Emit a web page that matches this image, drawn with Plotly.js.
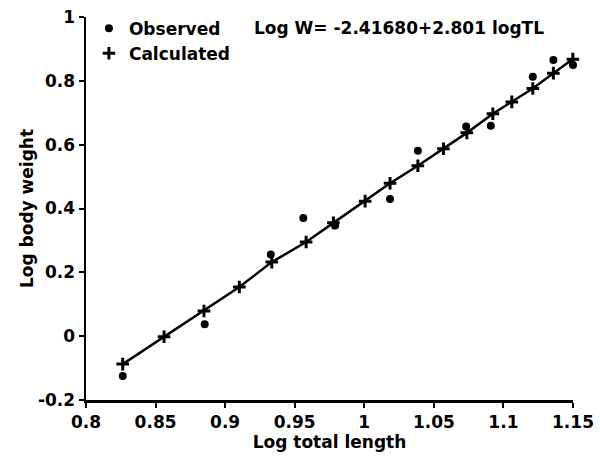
<!DOCTYPE html>
<html>
<head>
<meta charset="utf-8">
<script src="https://cdn.plot.ly/plotly-3.0.1.min.js"></script>
<style>html,body{margin:0;padding:0;background:#fff;}#chart{width:600px;height:460px;}</style>
</head>
<body>
<div id="chart"></div>
<script>
// Observed points (log total length, log body weight)
const obsX = [0.8264, 0.8853, 0.9328, 0.9562, 0.9790, 1.0185, 1.0385, 1.0732, 1.0909, 1.1211, 1.1359, 1.1500];
const obsY = [-0.125, 0.0375, 0.256, 0.370, 0.347, 0.430, 0.581, 0.657, 0.659, 0.8125, 0.865, 0.850];
// Calculated points
const calcX = [0.8264, 0.8561, 0.8848, 0.9102, 0.9335, 0.9582, 0.9778, 1.0006, 1.0185, 1.0385, 1.0569, 1.0737, 1.0924, 1.1060, 1.1211, 1.1359, 1.1499];
const calcY = [-0.0875, -0.002, 0.079, 0.154, 0.232, 0.295, 0.355, 0.423, 0.479, 0.534, 0.587, 0.637, 0.697, 0.734, 0.776, 0.824, 0.868];
// Tick labels
const xTickVals = [0.8, 0.85, 0.9, 0.95, 1, 1.05, 1.1, 1.15];
const xTickText = ["0.8", "0.85", "0.9", "0.95", "1", "1.05", "1.1", "1.15"];
const yTickVals = [-0.2, 0, 0.2, 0.4, 0.6, 0.8, 1];
const yTickText = ["-0.2", "0", "0.2", "0.4", "0.6", "0.8", "1"];
const equationText = "Log W= -2.41680+2.801 logTL";

const FONT = {family: "DejaVu Sans", size: 17, color: "#000", weight: "bold"};

const traces = [
  {x: calcX, y: calcY, mode: "lines", line: {color: "#000", width: 2.5}, showlegend: false, hoverinfo: "skip", cliponaxis: false},
  {x: calcX, y: calcY, mode: "markers", name: "Calculated", legendrank: 2, cliponaxis: false,
   marker: {symbol: "cross-thin", size: 9, color: "#000", line: {color: "#000", width: 3}}},
  {x: obsX, y: obsY, mode: "markers", name: "Observed", legendrank: 1, cliponaxis: false,
   marker: {symbol: "circle", size: 8, color: "#000"}}
];

const axisCommon = {
  showline: true, linecolor: "#000", linewidth: 2.5,
  ticks: "outside", ticklen: 5, tickwidth: 2, tickcolor: "#000",
  showgrid: false, zeroline: false, tickfont: FONT, tickmode: "array"
};

const layout = {
  width: 600, height: 460,
  margin: {l: 86, r: 27, t: 16, b: 60},
  paper_bgcolor: "#fff", plot_bgcolor: "#fff",
  font: FONT,
  xaxis: Object.assign({}, axisCommon, {range: [0.8, 1.15], tickvals: xTickVals, ticktext: xTickText,
    title: {text: "Log total length", font: FONT, standoff: 2}}),
  yaxis: Object.assign({}, axisCommon, {range: [-0.2, 1], tickvals: yTickVals, ticktext: yTickText,
    title: {text: "Log body weight", font: FONT, standoff: 0}}),
  legend: {x: 0.006, y: 1.014, xanchor: "left", yanchor: "top", bgcolor: "rgba(0,0,0,0)",
    font: FONT, tracegroupgap: 0, itemwidth: 30},
  annotations: [{xref: "paper", yref: "paper", x: 0.643, y: 0.971, text: equationText,
    showarrow: false, font: FONT, xanchor: "center", yanchor: "middle"}]
};

Plotly.newPlot("chart", traces, layout, {displayModeBar: false, staticPlot: true});
</script>
</body>
</html>
